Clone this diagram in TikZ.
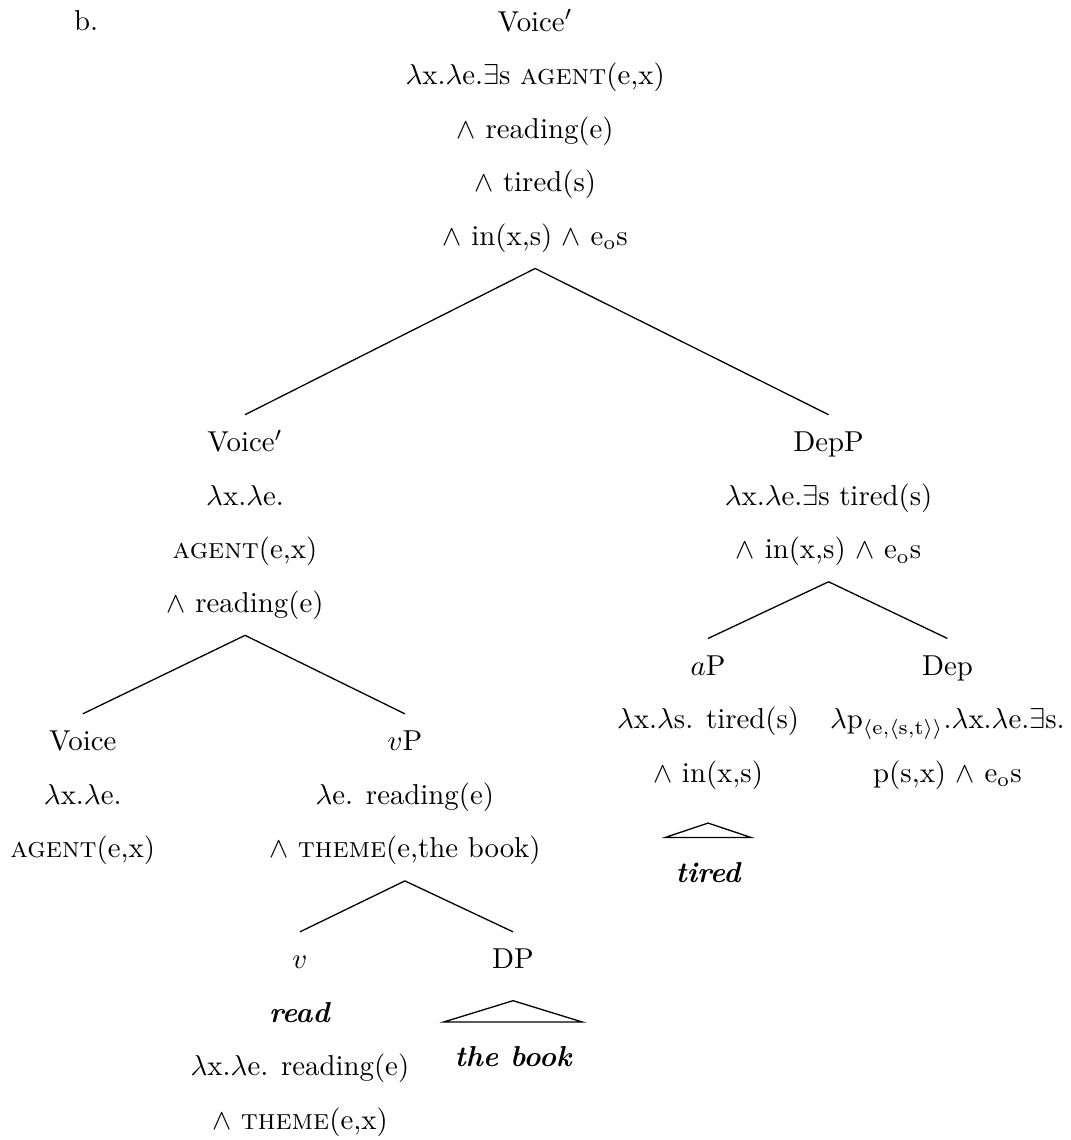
\documentclass[tikz,border=0pt]{standalone}
\usepackage{amsmath,amssymb}
\usepackage{tikz}
\newcommand{\rowgap}{\\[6.6pt]}
\newcommand{\eo}{e$_\mathrm{o}$s}
\newcommand{\lam}{$\lambda$}
\newcommand{\lex}[1]{\textbf{\textit{#1}}}
\tikzset{
  tnode/.style={align=center, anchor=north, inner xsep=2pt, inner ysep=4.2pt},
  leaf/.style={anchor=north, font=\bfseries\itshape, inner xsep=3.6pt, inner ysep=6.8pt, text height=8.5pt, text depth=0pt},
  branch/.style={black, line width=0.45pt},
  roof/.style={black, line width=0.45pt, line join=miter},
}

\begin{document}
\begin{tikzpicture}
\useasboundingbox (0,0) rectangle (13.06,-13.91);
\node[anchor=base west] (ex) at (0.78,-0.37) {b.};
% top node
\node[tnode] (root) at (6.53,0.07) {\strut Voice$'$\rowgap \lam x.\lam e.$\exists$s \textsc{agent}(e,x)\rowgap $\wedge$ reading(e)\rowgap $\wedge$ tired(s)\rowgap $\wedge$ in(x,s) $\wedge$ \eo\strut};
% first level
\node[tnode] (voicebar) at (2.99,-5.06) {\strut Voice$'$\rowgap \lam x.\lam e.\rowgap \textsc{agent}(e,x)\rowgap $\wedge$ reading(e)\strut};
\node[tnode] (depp) at (10.11,-5.06) {\strut DepP\rowgap \lam x.\lam e.$\exists$s tired(s)\rowgap $\wedge$ in(x,s) $\wedge$ \eo\strut};
% second level
\node[tnode] (voice) at (1.01,-8.71) {\strut Voice\rowgap \lam x.\lam e.\rowgap \textsc{agent}(e,x)\strut};
\node[tnode] (vp) at (4.94,-8.71) {\strut $v$P\rowgap \lam e. reading(e)\rowgap $\wedge$ \textsc{theme}(e,the book)\strut};
\node[tnode] (ap) at (8.64,-7.79) {\strut $a$P\rowgap \lam x.\lam s. tired(s)\rowgap $\wedge$ in(x,s)\strut};
\node[tnode] (dep) at (11.56,-7.79) {\strut Dep\rowgap \lam p$_{\langle\mathrm{e},\langle\mathrm{s},\mathrm{t}\rangle\rangle}$.\lam x.\lam e.$\exists$s.\rowgap p(s,x) $\wedge$ \eo\strut};
% third level
\node[tnode] (v) at (3.66,-11.37) {\strut $v$\rowgap \lex{read}\rowgap \lam x.\lam e. reading(e)\rowgap $\wedge$ \textsc{theme}(e,x)\strut};
\node[tnode] (dp) at (6.26,-11.37) {\strut DP\strut};
% leaves under roofs
\node[leaf] (book) at (6.26,-12.47) {the book};
\node[leaf] (tired) at (8.64,-10.22) {tired};

\draw[branch] (root.south) -- (voicebar.north);
\draw[branch] (root.south) -- (depp.north);
\draw[branch] (voicebar.south) -- (voice.north);
\draw[branch] (voicebar.south) -- (vp.north);
\draw[branch] (vp.south) -- (v.north);
\draw[branch] (vp.south) -- (dp.north);
\draw[branch] (depp.south) -- (ap.north);
\draw[branch] (depp.south) -- (dep.north);
\draw[roof] ([yshift=-3.1pt]dp.south) -- (book.north east) -- (book.north west) -- cycle;
\draw[roof] ([yshift=-6.1pt]ap.south) -- (tired.north east) -- (tired.north west) -- cycle;
\end{tikzpicture}
\end{document}
